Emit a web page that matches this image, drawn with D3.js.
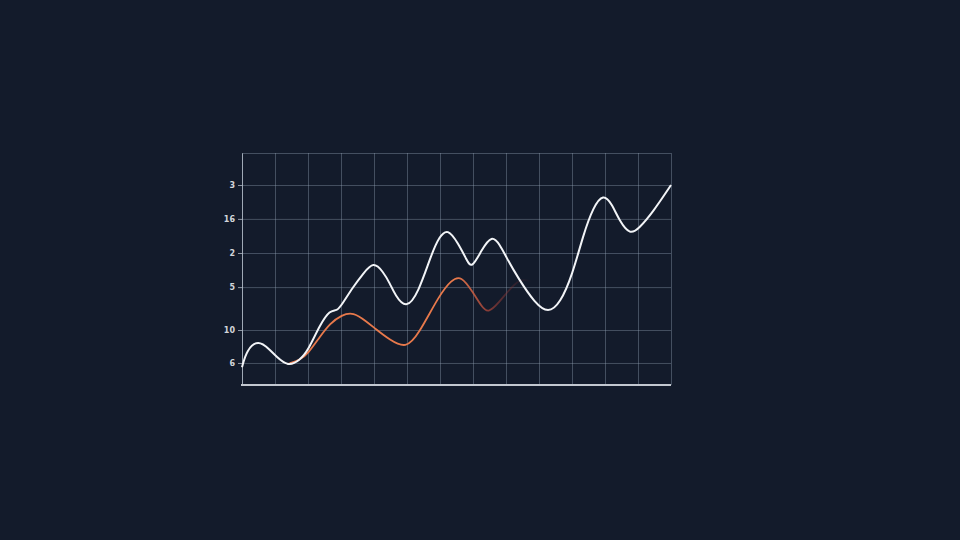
<!doctype html>
<html lang="en">
<head>
	<meta charset="utf-8">
	<title>Line chart</title>
	<style>
		html, body { margin: 0; padding: 0; background: #131b2b; }
		svg { display: block; }
	</style>
</head>
<body>
	<svg id="Chart" width="960" height="540"></svg>

	<script src="https://cdn.jsdelivr.net/npm/d3@7/dist/d3.min.js"></script>
	<script>
		// y tick positions (in the chart's 0-100 units) and the labels printed beside them
		var yTickValues = [86.2, 71.6, 56.9, 42.2, 23.7, 9.5];
		var yTickLabels = ["3", "16", "2", "5", "10", "6"];

		// vertical grid columns
		var xGrid = d3.range(0, 14);

		// white series: x in grid units, y in 0-100 units
		var whiteX = [0, 0.14, 0.49, 0.85, 1.02, 1.40, 1.76, 2.01, 2.36, 2.67, 2.87, 3.02, 3.37, 3.68, 3.98,
			4.28, 4.48, 4.64, 4.97, 5.34, 5.75, 5.98, 6.23, 6.55, 6.81, 6.96, 7.26, 7.57, 7.82, 8.00,
			8.37, 8.88, 9.28, 9.64, 10.01, 10.34, 10.65, 10.95, 11.20, 11.45, 11.76, 12.03, 12.46, 13];
		var whiteY = [7.6, 15.1, 19.6, 15.1, 12.5, 7.8, 10.8, 15.1, 25.9, 32.4, 31.8, 34.5, 42.4, 48.1, 53.3,
			48.8, 43.8, 38.8, 32.6, 39.5, 56.8, 63.9, 67.6, 61.1, 53.9, 50.0, 58.2, 64.8, 60.3, 55.3,
			46.0, 35.2, 30.9, 35.2, 47.4, 64.7, 76.9, 82.4, 78.3, 70.4, 64.7, 67.5, 74.7, 86.2];

		// orange series, fading out to the right
		var orangeX = [1.40, 1.76, 2.01, 2.36, 2.67, 3.02, 3.37, 3.78, 4.03, 4.48, 4.97, 5.34, 5.98,
			6.35, 6.64, 6.99, 7.26, 7.46, 7.77, 8.17, 8.48, 8.78];
		var orangeY = [9.1, 10.8, 13.7, 20.8, 26.6, 30.2, 31.5, 27.3, 24.4, 19.4, 15.7, 21.6, 38.8,
			45.3, 47.2, 40.2, 33.8, 30.9, 35.2, 42.4, 45.9, 44.5];

		(function () {
			"use strict";

			var margin = { top: 153, right: 289, bottom: 155, left: 242 },
				width = 960 - margin.left - margin.right,
				height = 540 - margin.top - margin.bottom;

			var svg = d3.select("#Chart");

			var x = d3.scaleLinear().domain([0, 13]).range([0, width]),
				y = d3.scaleLinear().domain([0, 100]).range([height, 0]);

			var g = svg.append("g")
				.attr("transform", "translate(" + margin.left + "," + margin.top + ")");

			var gridColor = "rgba(150,165,185,0.38)";

			// vertical grid
			g.append("g")
				.attr("class", "grid-x")
				.attr("transform", "translate(0," + height + ")")
				.call(d3.axisBottom(x).tickValues(xGrid).tickSize(-height).tickFormat(""))
				.call(function (s) {
					s.select(".domain").remove();
					s.selectAll("line").attr("stroke", gridColor).attr("stroke-width", 1);
				});

			// horizontal grid, top edge included
			g.append("g")
				.attr("class", "grid-y")
				.call(d3.axisLeft(y).tickValues(yTickValues.concat([100])).tickSize(-width).tickFormat(""))
				.call(function (s) {
					s.select(".domain").remove();
					s.selectAll("line").attr("stroke", gridColor).attr("stroke-width", 1);
				});

			// left axis with labels
			g.append("g")
				.attr("class", "axis-y")
				.call(d3.axisLeft(y).tickValues(yTickValues).tickSize(4).tickSizeOuter(0).tickPadding(3)
					.tickFormat(function (d, i) { return yTickLabels[i]; }))
				.call(function (s) {
					s.select(".domain").attr("stroke", "rgba(200,208,220,0.7)").attr("stroke-width", 1);
					s.selectAll(".tick line").attr("stroke", "rgba(200,208,220,0.7)");
					s.selectAll("text")
						.attr("fill", "#d2d5da")
						.style("font-family", "'DejaVu Sans', sans-serif")
						.style("font-size", "8px")
						.style("font-weight", "bold");
				});

			// bottom axis line
			g.append("line")
				.attr("x1", x(0) - 1)
				.attr("x2", x(13))
				.attr("y1", y(0))
				.attr("y2", y(0))
				.attr("stroke", "#c3c8d0")
				.attr("stroke-width", 2);

			var defs = svg.append("defs");
			var grad = defs.append("linearGradient")
				.attr("id", "orangeFade")
				.attr("gradientUnits", "userSpaceOnUse")
				.attr("x1", x(6.5)).attr("x2", x(8.78))
				.attr("y1", 0).attr("y2", 0);
			grad.append("stop").attr("offset", 0).attr("stop-color", "#e8794b").attr("stop-opacity", 1);
			grad.append("stop").attr("offset", 0.4).attr("stop-color", "#b54a3c").attr("stop-opacity", 0.75);
			grad.append("stop").attr("offset", 0.75).attr("stop-color", "#8a3334").attr("stop-opacity", 0.3);
			grad.append("stop").attr("offset", 1).attr("stop-color", "#6a2a30").attr("stop-opacity", 0);

			// B-spline through the read-off points smooths out reading noise
			var line = d3.line()
				.x(function (d) { return x(d[0]); })
				.y(function (d) { return y(d[1]); })
				.curve(d3.curveBasis);

			g.append("path")
				.datum(d3.zip(orangeX, orangeY))
				.attr("fill", "none")
				.attr("stroke", "url(#orangeFade)")
				.attr("stroke-width", 1.8)
				.attr("stroke-linecap", "round")
				.attr("d", line);

			g.append("path")
				.datum(d3.zip(whiteX, whiteY))
				.attr("fill", "none")
				.attr("stroke", "#f2f4f7")
				.attr("stroke-width", 2)
				.attr("stroke-linejoin", "round")
				.attr("d", line);
		})();
	</script>
</body>
</html>
